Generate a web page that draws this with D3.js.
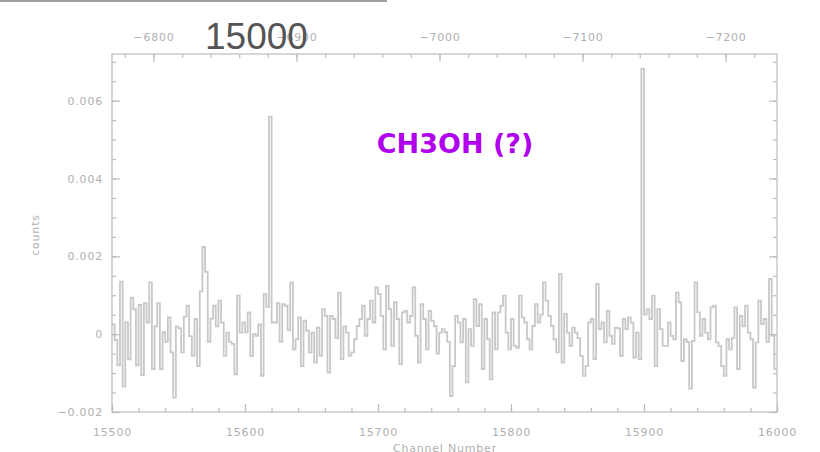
<!DOCTYPE html>
<html>
<head>
<meta charset="utf-8">
<script src="https://cdn.jsdelivr.net/npm/d3@7"></script>
<style>
  body { margin: 0; background: #fff; }
  svg text { font-family: "DejaVu Sans", sans-serif; }
  .tick-label { fill: #b0b0b0; font-size: 11px; letter-spacing: 0.8px; }
</style>
</head>
<body>
<div id="chart"></div>
<script>
// channel axis (bottom) and velocity axis (top)
var firstChannel = 15500;
var channelStep = 2;
var channelTicks = [15500, 15600, 15700, 15800, 15900, 16000];
var velocityTicks = [-6800, -6900, -7000, -7100, -7200];
var velocityDomain = [-6771, -7236];

// counts, in units of 1e-4, one value per 2 channels
var counts = [
  2.5, -1.5, -8, 13.5, -13.5, 3, -6.5, 9.4, 6.4, -8,
  7.5, -10.5, 8, 3, 13.3, -9, 2, 8, -9, 0.5,
  -2, 4.3, -4.7, -16.3, 2, 1.5, -4.7, 4.5, 7.3, -0.5,
  -5.6, 3.9, -8.2, 11, 22.4, 16, -2, 4, 7.3, 2,
  8.6, 3, -5.6, 0.4, -2, -2.5, -10.3, 9.9, 0.4, 3,
  0.5, 5.6, -5.6, 0, -0.4, 2.5, -10.7, 10.3, 7, 55.9,
  3, 3, 8, -2, 7.7, 7.3, 1, 13.3, -3.9, -1.3,
  4.3, -8.2, 3.5, 0.9, -4.7, 0.4, -7.3, 1.7, -5.6, 6.4,
  4.7, -9.9, 4.7, 3.9, -1, 10.7, -6.4, 2, 0.4, -5.6,
  -4.7, -1.3, 2.1, 3.9, 7.3, -0.4, 3.9, 8.6, 3, 12,
  10.3, 4.7, -3.9, 12.4, 6.4, -3, 8.2, 3.9, -7.7, 5.6,
  6, 3, 4.7, 12, -0.4, -7.3, 7.7, 3.9, -3.9, 6,
  3.4, 2.1, -5, 0.4, 1.3, 0.5, -2, -15.9, -8.2, 4.7,
  3, -2.1, 3.9, -12.4, 1.3, -3, 9, 2.1, 7.7, -9,
  3.9, -1.3, -11.6, 5.6, -3.9, 5.6, 7.3, 9.9, 0.4, -3.9,
  3.9, -3, -3.5, 9.9, 4.3, 3, -1.3, -3.9, 2.1, 7.7,
  3, 5, 13.3, 8.6, 4.7, 2.1, -1.3, -4.7, 15.5, -7.3,
  5.2, 0.4, -3, 1.7, 0.4, -1, -5.6, -10.7, -8.2, 3,
  3.9, -6.4, 12.9, 1.3, 3, -2.1, 6, -0.4, -2.5, 1.7,
  1.5, -5.6, 3.9, 1.3, 4.3, 3, -6, 0.4, -6.4, 68.2,
  5, 6.4, 3.9, 9.9, -8.2, 6.4, 1.3, -3, -3, 3,
  -0.4, -1.3, 10.7, 8.2, -6.9, -1.3, -2, -14, -1.7, 13.3,
  5.6, -0.4, 3.9, 0.4, -1.3, 6.9, 7.3, -2.1, -3, -8.2,
  -10.7, -1.3, -3.9, -1, 6.9, -9, 4.7, 2, 7.3, 0.4,
  -1.3, -13.7, -2.1, 8.6, 2.6, 3.9, -2, 14.2, -0.4, -9
];
var countTicks = [-20, 0, 20, 40, 60];
var countTickLabels = ["\u22120.002", "0", "0.002", "0.004", "0.006"];

var W = 820, H = 452;
var plotLeft = 112, plotRight = 777, plotTop = 54, plotBottom = 412;

var svg = d3.select("#chart").append("svg")
    .attr("width", W)
    .attr("height", H);

var x = d3.scaleLinear().domain([15500, 16000]).range([plotLeft, plotRight]);
var xTop = d3.scaleLinear().domain(velocityDomain).range([plotLeft, plotRight]);
var y = d3.scaleLinear().domain([-20, 72]).range([plotBottom, plotTop]);

// stray rule at the top edge of the image
svg.append("line")
  .attr("x1", 0).attr("x2", 387)
  .attr("y1", 1).attr("y2", 1)
  .attr("stroke", "#a0a0a0").attr("stroke-width", 2);

// spectrum as histogram steps
var pts = counts.map(function(v, i){ return [firstChannel + i*channelStep, v]; });
pts.push([firstChannel + counts.length*channelStep, counts[counts.length-1]]);

var line = d3.line()
  .x(function(d){ return x(d[0]); })
  .y(function(d){ return y(d[1]); })
  .curve(d3.curveStepAfter);

svg.append("path")
  .datum(pts)
  .attr("fill", "none")
  .attr("stroke", "#c8c8c8")
  .attr("stroke-width", 1.8)
  .attr("d", line);

// frame
var axisColor = "#bdbdbd";
svg.append("rect")
  .attr("x", plotLeft).attr("y", plotTop)
  .attr("width", plotRight-plotLeft).attr("height", plotBottom-plotTop)
  .attr("fill", "none").attr("stroke", axisColor).attr("stroke-width", 1.2);

function styleAxis(g){
  g.select(".domain").remove();
  g.selectAll(".tick line").attr("stroke", axisColor).attr("stroke-width", 1.2);
  g.selectAll(".tick text").attr("class", "tick-label").attr("fill", null);
}

// bottom: channel number
svg.append("g")
  .attr("transform", "translate(0," + plotBottom + ")")
  .call(d3.axisBottom(x).tickValues(d3.range(15500, 16001, 20)).tickSize(-4).tickFormat(""))
  .call(styleAxis);
svg.append("g")
  .attr("transform", "translate(0," + plotBottom + ")")
  .call(d3.axisBottom(x).tickValues(channelTicks).tickSize(-8).tickPadding(16).tickFormat(d3.format("d")))
  .call(styleAxis);

// top: velocity
svg.append("g")
  .attr("transform", "translate(0," + plotTop + ")")
  .call(d3.axisTop(xTop).tickValues(d3.range(-6780, -7240, -20)).tickSize(-4).tickFormat(""))
  .call(styleAxis);
svg.append("g")
  .attr("transform", "translate(0," + plotTop + ")")
  .call(d3.axisTop(xTop).tickValues(velocityTicks).tickSize(-8).tickPadding(13)
        .tickFormat(function(d){ return "\u2212" + Math.abs(d); }))
  .call(styleAxis);

// left and right: counts
var minorY = d3.range(-20, 72, 5);
svg.append("g")
  .attr("transform", "translate(" + plotLeft + ",0)")
  .call(d3.axisLeft(y).tickValues(minorY).tickSize(-4).tickFormat(""))
  .call(styleAxis);
svg.append("g")
  .attr("transform", "translate(" + plotLeft + ",0)")
  .call(d3.axisLeft(y).tickValues(countTicks).tickSize(-8).tickPadding(9)
        .tickFormat(function(d, i){ return countTickLabels[i]; }))
  .call(styleAxis);
svg.append("g")
  .attr("transform", "translate(" + plotRight + ",0)")
  .call(d3.axisRight(y).tickValues(minorY).tickSize(-4).tickFormat(""))
  .call(styleAxis);
svg.append("g")
  .attr("transform", "translate(" + plotRight + ",0)")
  .call(d3.axisRight(y).tickValues(countTicks).tickSize(-8).tickFormat(""))
  .call(styleAxis);

// axis titles
svg.append("text")
  .attr("transform", "translate(39,235) rotate(-90)")
  .attr("text-anchor", "middle")
  .attr("class", "tick-label")
  .text("counts");

svg.append("text")
  .attr("x", 445).attr("y", 452)
  .attr("text-anchor", "middle")
  .attr("class", "tick-label")
  .text("Channel Number");

// overlay labels
svg.append("text")
  .attr("x", 205).attr("y", 49)
  .style("font-family", "Liberation Sans, sans-serif")
  .style("font-size", "37px")
  .attr("fill", "#555")
  .text("15000");

svg.append("text")
  .attr("x", 455).attr("y", 153)
  .attr("text-anchor", "middle")
  .style("font-size", "27px")
  .style("font-weight", "bold")
  .attr("fill", "#b100ee")
  .text("CH3OH (?)");
</script>
</body>
</html>
